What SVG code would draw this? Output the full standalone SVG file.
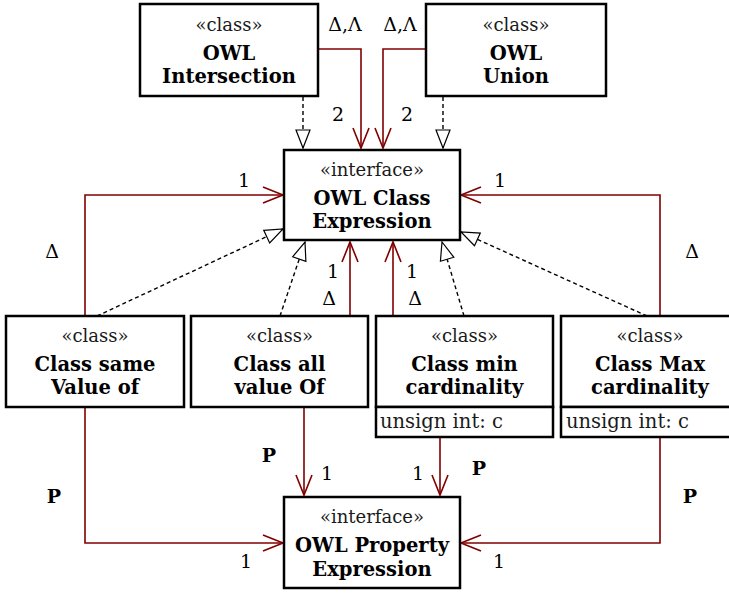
<svg xmlns="http://www.w3.org/2000/svg" width="729" height="593" viewBox="0 0 729 593">
<defs>
<style>
.box{fill:#fff;stroke:#000;stroke-width:2.5}
.st{font-family:"DejaVu Serif",serif;font-size:18px;text-anchor:middle;fill:#1a1a1a}
.nm{font-family:"DejaVu Serif",serif;font-size:19.5px;font-weight:bold;text-anchor:middle;fill:#000}
.at{font-family:"DejaVu Serif",serif;font-size:19.5px;fill:#1a1a1a}
.lb{font-family:"DejaVu Serif",serif;font-size:19px;text-anchor:middle;fill:#000}
.lbb{font-family:"DejaVu Serif",serif;font-size:19px;font-weight:bold;text-anchor:middle;fill:#000}
.assoc{fill:none;stroke:#800000;stroke-width:1.6}
.real{fill:none;stroke:#000;stroke-width:1.4;stroke-dasharray:4 3}
</style>
<marker id="open" markerUnits="userSpaceOnUse" markerWidth="24" markerHeight="20" viewBox="-21 -10 24 20" refX="0" refY="0" orient="auto">
<path d="M-20,-8 L0,0 L-20,8" fill="none" stroke="#800000" stroke-width="1.6"/>
</marker>
<marker id="tri" markerUnits="userSpaceOnUse" markerWidth="22" markerHeight="18" viewBox="-20 -9 22 18" refX="0" refY="0" orient="auto">
<path d="M-18,-7 L0,0 L-18,7 Z" fill="#fff" stroke="#000" stroke-width="1.2"/>
</marker>
</defs>

<g id="connectors">
<path class="real" d="M303,97 V148" marker-end="url(#tri)"/>
<path class="real" d="M443,97 V148" marker-end="url(#tri)"/>
<path class="real" d="M97,316 L283,229" marker-end="url(#tri)"/>
<path class="real" d="M280,316 L305,242" marker-end="url(#tri)"/>
<path class="real" d="M464,316 L442,242" marker-end="url(#tri)"/>
<path class="real" d="M647,316 L461,232" marker-end="url(#tri)"/>
<path class="assoc" d="M319,49 H361 V148" marker-end="url(#open)"/>
<path class="assoc" d="M425,49 H383 V148" marker-end="url(#open)"/>
<path class="assoc" d="M85,315 V195 H283" marker-end="url(#open)"/>
<path class="assoc" d="M350,315 V242" marker-end="url(#open)"/>
<path class="assoc" d="M393,315 V242" marker-end="url(#open)"/>
<path class="assoc" d="M660,315 V195 H461" marker-end="url(#open)"/>
<path class="assoc" d="M85,408 V543 H283" marker-end="url(#open)"/>
<path class="assoc" d="M304,408 V495" marker-end="url(#open)"/>
<path class="assoc" d="M440,438 V495" marker-end="url(#open)"/>
<path class="assoc" d="M660,438 V543 H461" marker-end="url(#open)"/>
<text class="lb" x="345" y="31">Δ,Λ</text>
<text class="lb" x="400" y="31">Δ,Λ</text>
<text class="lb" x="338" y="121">2</text>
<text class="lb" x="407" y="121">2</text>
<text class="lb" x="244" y="187">1</text>
<text class="lb" x="52" y="258">Δ</text>
<text class="lb" x="333" y="278">1</text>
<text class="lb" x="329" y="305">Δ</text>
<text class="lb" x="412" y="278">1</text>
<text class="lb" x="415" y="305">Δ</text>
<text class="lb" x="500" y="187">1</text>
<text class="lb" x="692" y="258">Δ</text>
<text class="lbb" x="54" y="503">P</text>
<text class="lb" x="246" y="568">1</text>
<text class="lbb" x="269" y="462">P</text>
<text class="lb" x="327" y="480">1</text>
<text class="lb" x="418" y="480">1</text>
<text class="lbb" x="479" y="475">P</text>
<text class="lbb" x="690" y="503">P</text>
<text class="lb" x="499" y="568">1</text>
</g>

<g id="owl-intersection">
<rect class="box" x="140" y="4" width="178" height="92"/>
<text class="st" x="229" y="31">«class»</text>
<text class="nm" x="229" y="60">OWL</text>
<text class="nm" x="229" y="83">Intersection</text>
</g>

<g id="owl-union">
<rect class="box" x="426" y="4" width="180" height="92"/>
<text class="st" x="516" y="31">«class»</text>
<text class="nm" x="516" y="60">OWL</text>
<text class="nm" x="516" y="83">Union</text>
</g>

<g id="owl-class-expression">
<rect class="box" x="284" y="150" width="176" height="90"/>
<text class="st" x="372" y="176">«interface»</text>
<text class="nm" x="372" y="205">OWL Class</text>
<text class="nm" x="372" y="228">Expression</text>
</g>

<g id="class-same-value-of">
<rect class="box" x="6" y="316" width="178" height="91"/>
<text class="st" x="95" y="342">«class»</text>
<text class="nm" x="95" y="371">Class same</text>
<text class="nm" x="95" y="394">Value of</text>
</g>

<g id="class-all-value-of">
<rect class="box" x="191" y="316" width="177" height="91"/>
<text class="st" x="279.5" y="342">«class»</text>
<text class="nm" x="279.5" y="371">Class all</text>
<text class="nm" x="279.5" y="394">value Of</text>
</g>

<g id="class-min-cardinality">
<rect class="box" x="376" y="316" width="177" height="91"/>
<rect class="box" x="376" y="407" width="177" height="30"/>
<text class="st" x="464.5" y="342">«class»</text>
<text class="nm" x="464.5" y="371">Class min</text>
<text class="nm" x="464.5" y="394">cardinality</text>
<text class="at" x="380" y="428">unsign int: c</text>
</g>

<g id="class-max-cardinality">
<rect class="box" x="561" y="316" width="178" height="91"/>
<rect class="box" x="561" y="407" width="178" height="30"/>
<text class="st" x="650" y="342">«class»</text>
<text class="nm" x="650" y="371">Class Max</text>
<text class="nm" x="650" y="394">cardinality</text>
<text class="at" x="566" y="428">unsign int: c</text>
</g>

<g id="owl-property-expression">
<rect class="box" x="284" y="497" width="176" height="91"/>
<text class="st" x="372" y="523">«interface»</text>
<text class="nm" x="372" y="552">OWL Property</text>
<text class="nm" x="372" y="576">Expression</text>
</g>
</svg>
